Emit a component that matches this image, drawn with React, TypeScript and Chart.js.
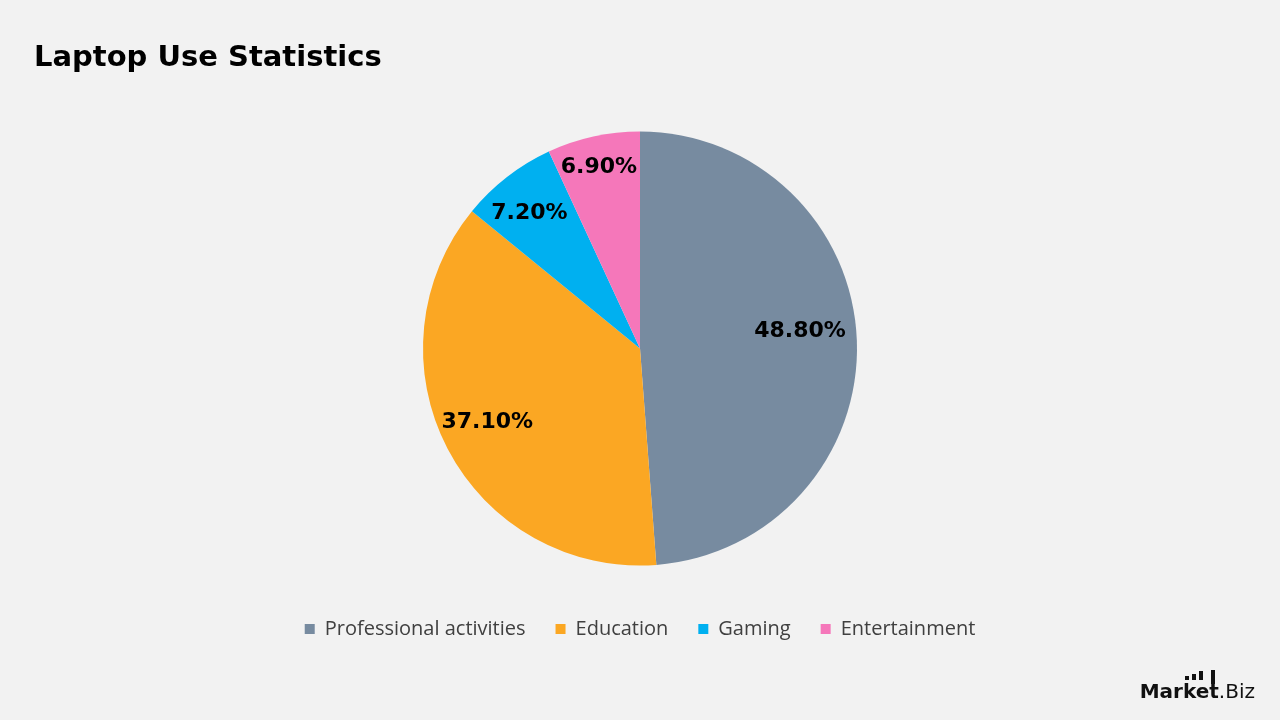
import React, { useEffect, useRef } from "react";
import { Chart, registerables } from "chart.js";

Chart.register(...registerables);

const categories = ["Professional activities", "Education", "Gaming", "Entertainment"];
const shares = [48.8, 37.1, 7.2, 6.9];
const sliceColors = ["#778BA0", "#FBA723", "#00B0F0", "#F577BA"];
// label placement inside each slice: fraction of radius and angular shift (degrees)
const labelRadiusFraction = [0.742, 0.78, 0.81, 0.86];
const labelAngleShift = [-4.2, 2.0, -1.2, -0.3];

const sliceLabelPlugin = {
  id: "sliceLabels",
  afterDatasetsDraw(chart: any) {
    const { ctx } = chart;
    const meta = chart.getDatasetMeta(0);
    ctx.save();
    ctx.font = "bold 22px 'DejaVu Sans', sans-serif";
    ctx.fillStyle = "#000000";
    ctx.textAlign = "center";
    ctx.textBaseline = "middle";
    meta.data.forEach((arc: any, i: number) => {
      const p = arc.getProps(["x", "y", "startAngle", "endAngle", "outerRadius"], true);
      const mid = (p.startAngle + p.endAngle) / 2 + (labelAngleShift[i] * Math.PI) / 180;
      const r = p.outerRadius * labelRadiusFraction[i];
      const x = p.x + Math.cos(mid) * r;
      const y = p.y + Math.sin(mid) * r + 1;
      ctx.fillText(shares[i].toFixed(2) + "%", x, y);
    });
    ctx.restore();
  },
};

export default function App() {
  const canvasRef = useRef<HTMLCanvasElement | null>(null);

  useEffect(() => {
    document.body.style.margin = "0";
    const chart = new Chart(canvasRef.current as HTMLCanvasElement, {
      type: "pie",
      data: {
        labels: categories,
        datasets: [
          {
            data: shares,
            backgroundColor: sliceColors,
            borderWidth: 0,
            radius: 217,
          },
        ],
      },
      options: {
        animation: false,
        responsive: false,
        maintainAspectRatio: false,
        layout: { padding: { top: 108, bottom: 71, left: 0, right: 0 } },
        plugins: {
          title: { display: false },
          tooltip: { enabled: false },
          legend: {
            display: true,
            position: "bottom",
            labels: {
              boxWidth: 10,
              boxHeight: 10,
              padding: 30,
              color: "#404040",
              font: { family: "'Open Sans', sans-serif", size: 20 },
            },
          },
        },
      },
      plugins: [sliceLabelPlugin],
    });
    return () => chart.destroy();
  }, []);

  const bar = (left: number, height: number, bottomGap: number) => (
    <span
      style={{
        position: "absolute",
        left,
        bottom: `calc(100% + ${bottomGap}px)`,
        width: 4,
        height,
        background: "#111",
      }}
    />
  );

  return (
    <div
      style={{
        position: "relative",
        width: 1280,
        height: 720,
        background: "#F2F2F2",
        overflow: "hidden",
      }}
    >
      <canvas ref={canvasRef} width={1280} height={720} style={{ position: "absolute", left: 0, top: 0 }} />
      <div
        style={{
          position: "absolute",
          left: 34,
          top: 38,
          fontFamily: "'DejaVu Sans', sans-serif",
          fontWeight: 700,
          fontSize: 29,
          lineHeight: "36px",
          color: "#000",
        }}
      >
        Laptop Use Statistics
      </div>
      <div
        style={{
          position: "absolute",
          right: 25,
          top: 681,
          fontFamily: "'DejaVu Sans', sans-serif",
          fontSize: 20,
          lineHeight: "20px",
          color: "#111",
          whiteSpace: "nowrap",
        }}
      >
        <span style={{ fontWeight: 700 }}>Mar</span>
        <span style={{ fontWeight: 700, position: "relative", display: "inline-block" }}>
          ke
          {bar(2, 4, 1)}
          {bar(9, 6, 1)}
          {bar(16, 9, 1)}
        </span>
        <span style={{ fontWeight: 700, position: "relative", display: "inline-block" }}>
          t
          {bar(2, 14, -3)}
        </span>
        <span style={{ fontWeight: 400 }}>.Biz</span>
      </div>
    </div>
  );
}
